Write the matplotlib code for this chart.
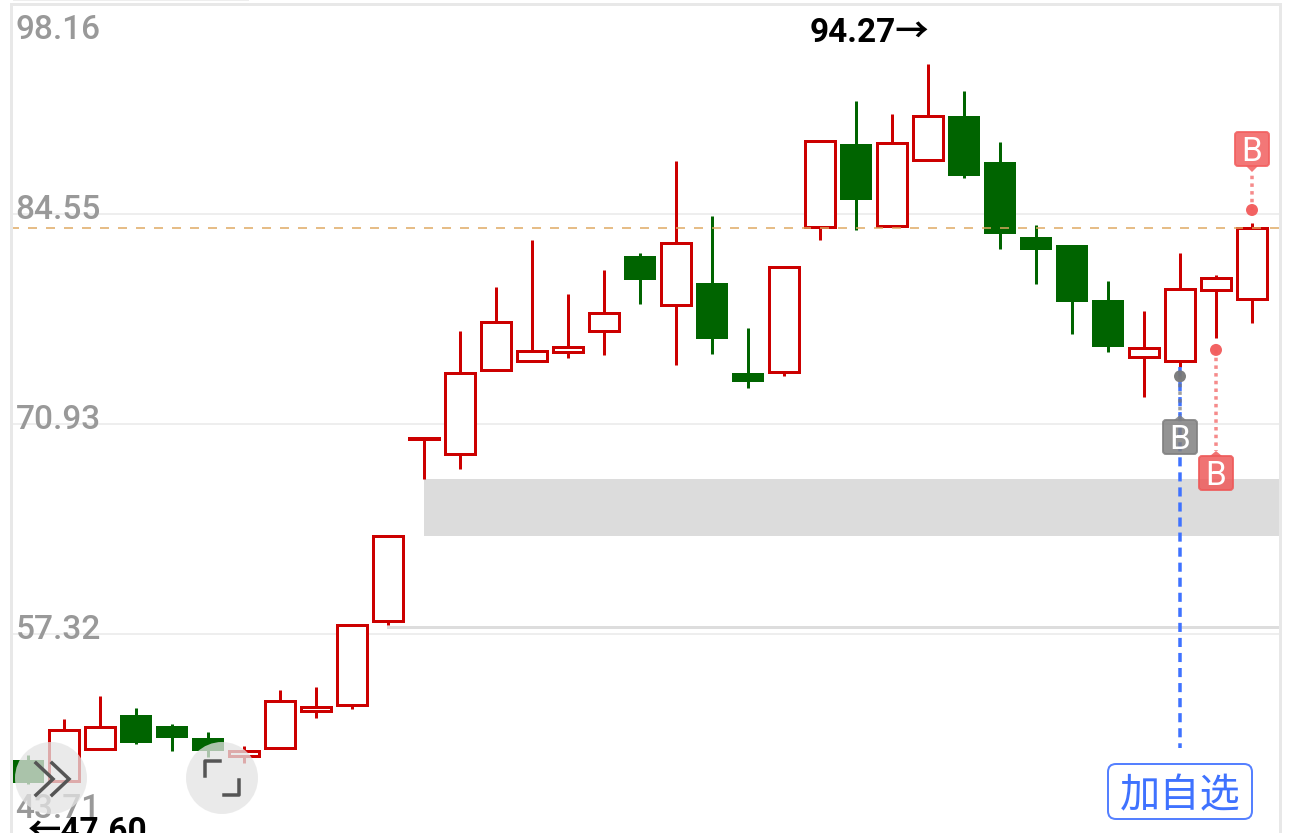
import matplotlib
matplotlib.use('Agg')
import matplotlib.pyplot as plt
from matplotlib.patches import Rectangle, Circle, FancyBboxPatch, Polygon
import numpy as np

# 値は画像から読み取り
opens = [49.16, 47.80, 49.88, 52.08, 51.37, 50.59, 49.42, 49.94, 52.34, 52.73,
         58.17, 69.97, 69.00, 74.44, 75.02, 75.61, 76.97, 81.83, 78.65, 80.08,
         74.25, 74.31, 83.71, 89.09, 83.77, 88.05, 90.90, 87.92, 83.06, 82.54,
         78.98, 75.28, 75.02, 79.62, 79.04]
closes = [47.67, 51.11, 51.30, 50.27, 50.59, 49.75, 49.75, 52.99, 52.60, 57.91,
          63.68, 70.03, 74.25, 77.55, 75.67, 75.93, 78.13, 80.27, 82.67, 76.45,
          73.66, 81.12, 89.28, 85.46, 89.15, 90.90, 87.01, 83.25, 82.22, 78.85,
          75.93, 75.87, 79.69, 80.40, 83.64]
highs = [49.49, 51.82, 53.31, 52.53, 51.50, 50.98, 50.07, 53.70, 53.89, 57.91,
         63.68, 70.03, 76.97, 79.82, 82.86, 79.37, 80.92, 82.02, 87.98, 84.42,
         77.16, 81.12, 89.28, 91.87, 91.03, 94.27, 92.52, 89.22, 83.84, 82.54,
         80.21, 78.26, 82.02, 80.60, 83.97]
lows = [47.60, 47.80, 49.88, 50.20, 49.75, 49.36, 48.97, 49.94, 51.89, 52.47,
        57.91, 67.38, 68.02, 74.37, 74.96, 75.22, 75.41, 78.72, 74.76, 75.48,
        73.27, 74.05, 82.86, 83.51, 83.77, 88.05, 86.88, 82.28, 80.01, 76.77,
        75.61, 72.69, 74.63, 76.51, 77.49]
grid_prices = [84.55, 70.93, 57.32]
axis_labels = ['98.16', '84.55', '70.93', '57.32', '43.71']
axis_prices = [98.16, 84.55, 70.93, 57.32, 43.71]
last_price = 83.64
gap_low, gap_high = 63.68, 67.38
support_price = 57.78
buy_index = [34, 33, 32]
buy_price = [84.81, 75.74, 74.03]

RED = '#cc0000'
GREEN = '#006400'
BLUE = '#3f72ff'
PX = 0.72  # 1px -> pt (dpi=100)

W, H = 1290, 833
PX_PER_PRICE = 15.43


def py(price):
    return 214 + (84.55 - price) * PX_PER_PRICE


def ix(i):
    return 28 + 36 * i


plt.rcParams['font.family'] = ['Roboto', 'Noto Sans CJK SC', 'DejaVu Sans']

fig = plt.figure(figsize=(W / 100, H / 100), dpi=100)
ax = fig.add_axes([0, 0, 1, 1])
ax.set_xlim((0 - 28) / 36, (W - 28) / 36)
ax.set_ylim(84.55 - (H - 214) / PX_PER_PRICE, 84.55 + 214 / PX_PER_PRICE)
ax.axis('off')

# 背景のグリッド
x0, x1 = 12 / W, 1280 / W
for p in grid_prices:
    ax.axhline(p, x0, x1, color='#eeeeee', lw=2 * PX, zorder=1)
ax.axhspan(gap_low, gap_high, 424 / W, x1, color='#dcdcdc', lw=0, zorder=1)
ax.axhline(support_price, 388 / W, x1, color='#dddddd', lw=3 * PX, zorder=1)

# ローソク足
for i, (o, c, h, l) in enumerate(zip(opens, closes, highs, lows)):
    up = c >= o
    col = RED if up else GREEN
    ax.vlines(i, l, h, color=col, lw=3 * PX, zorder=2)
    if up:
        ax.add_patch(Rectangle((i - 0.405, o), 0.81, c - o, fc='white', ec=col,
                               lw=3 * PX, zorder=3))
    else:
        ax.add_patch(Rectangle((i - 0.45, c), 0.90, o - c, fc=col, ec='none', zorder=3))

ax.axhline(last_price, 10 / W, x1, color='#dfa860', lw=1.5 * PX, dashes=(6, 6), zorder=4)

# 以降はピクセル座標のオーバーレイ
ov = fig.add_axes([0, 0, 1, 1], facecolor='none')
ov.set_xlim(0, W)
ov.set_ylim(H, 0)
ov.axis('off')

# 枠
ov.plot([11, 11], [4, H], color='#e8e8e8', lw=3 * PX, zorder=1)
ov.plot([11, 1280], [4, 4], color='#e8e8e8', lw=3 * PX, zorder=1)
ov.plot([1280, 1280], [4, H], color='#e8e8e8', lw=3 * PX, zorder=1)
ov.plot([14, 248], [0, 0], color='#eeeeee', lw=2 * PX, zorder=1)

# 軸ラベル
for label, p in zip(axis_labels, axis_prices):
    ov.text(15.5, np.clip(py(p) + 5, 39, 818), label, color='#999999', fontsize=24,
            fontweight='medium', ha='left', va='baseline', zorder=2)

# 最高値・最安値
ov.text(810, 42, f'{max(highs):.2f}→', color='black', fontsize=24, fontweight='bold',
        ha='left', va='baseline', zorder=8)
ov.text(28, 841, f'←{min(lows):.2f}', color='black', fontsize=24, fontweight='bold',
        ha='left', va='baseline', zorder=8)

# 買いマーカー
box_top = [131, 455, 419]
box_col = ['#f25f5f', '#ee5a5a', '#808080']
dot_col = ['#f25a5a', '#f25a5a', '#777777']
ov.plot([ix(32), ix(32)], [py(lows[32]), 748], color=BLUE, lw=3.5 * PX, dashes=(2.6, 1.7), zorder=4)
for k, (i, p) in enumerate(zip(buy_index, buy_price)):
    cx = ix(i)
    cy = py(p)
    top = box_top[k]
    if top < cy:
        tip = top + 41
        tri = [(cx - 6, top + 35), (cx + 6, top + 35), (cx, tip)]
    else:
        tip = top - 4
        tri = [(cx - 6, top + 1), (cx + 6, top + 1), (cx, tip)]
    ov.plot([cx, cx], [cy, tip], color=dot_col[k], lw=3.5 * PX, dashes=(1, 1.2), zorder=5, alpha=0.7)
    ov.add_patch(Circle((cx, cy), 6, fc=dot_col[k], ec='none', alpha=0.95, zorder=5))
    ov.add_patch(Polygon(tri, fc=box_col[k], ec='none', alpha=0.85, zorder=6))
    ov.add_patch(FancyBboxPatch((cx - 17, top + 1), 34, 34, boxstyle='round,pad=0,rounding_size=3',
                                fc=box_col[k], ec=box_col[k], lw=2 * PX, alpha=0.85, zorder=6))
    ov.text(cx, top + 30, 'B', color='white', fontsize=24,
            ha='center', va='baseline', zorder=7)

# 加自选
ov.add_patch(FancyBboxPatch((1108, 764), 144, 55, boxstyle='round,pad=0,rounding_size=8',
                            fc='white', ec='#5580ff', lw=2 * PX, zorder=6))
ov.text(1180, 796, '加自选', color=BLUE, fontsize=29, family=['Noto Sans CJK SC', 'DejaVu Sans'],
        ha='center', va='center', zorder=7)

# 丸ボタン
for cx in (51, 222):
    ov.add_patch(Circle((cx, 778), 36, fc='#e4e4e4', ec='none', alpha=0.75, zorder=9))
for dx in (0, 16):
    ov.plot(np.array([36, 53, 36]) + dx, [763, 779, 795], color='#555555', lw=3.5 * PX,
            solid_joinstyle='miter', zorder=10)
ov.plot([220, 205, 205], [761, 761, 776], color='#555555', lw=3.5 * PX, solid_joinstyle='round', zorder=10)
ov.plot([239, 239, 224], [780, 795, 795], color='#555555', lw=3.5 * PX, solid_joinstyle='round', zorder=10)

fig.savefig('out.png', dpi=100, facecolor='white')
plt.close(fig)
